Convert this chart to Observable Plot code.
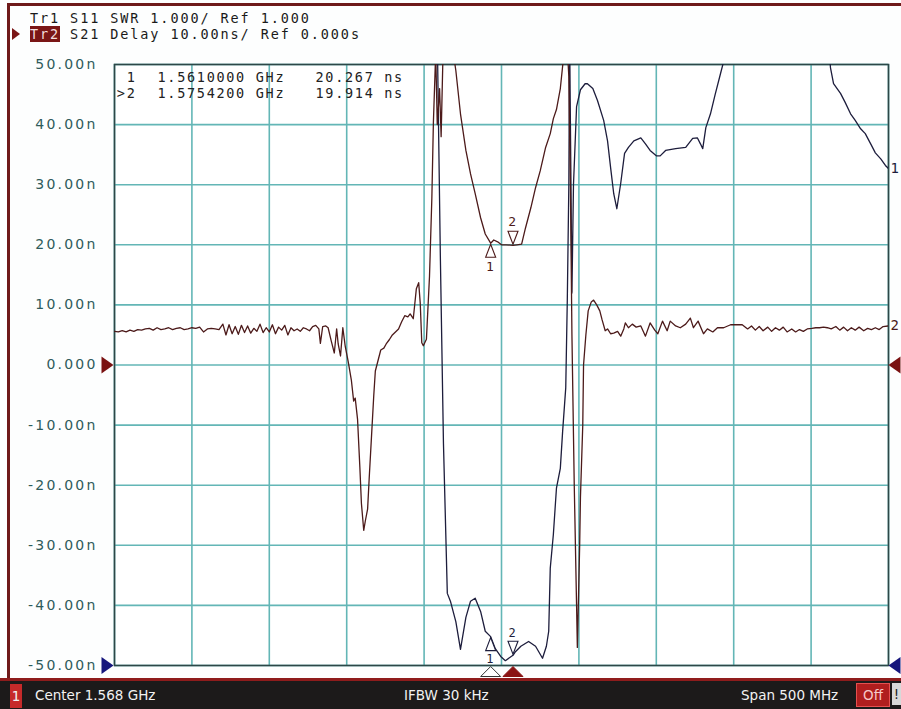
<!DOCTYPE html>
<html>
<head>
<meta charset="utf-8">
<script src="https://cdn.jsdelivr.net/npm/d3@7"></script>
<script src="https://cdn.jsdelivr.net/npm/@observablehq/plot@0.6"></script>
<style>
  html, body { margin: 0; padding: 0; background: #fdfefe; }
  #wrap { position: relative; width: 901px; height: 709px; overflow: hidden; background: #fdfefe; }
  #frameTop { position: absolute; left: 7px; top: 3px; width: 894px; height: 3px; background: #6e1a1a; }
  #frameLeft { position: absolute; left: 7px; top: 3px; width: 3px; height: 678px; background: #6e1a1a; }
  .hl { position: absolute; left: 30px; font-family: "DejaVu Sans Mono", monospace; font-size: 13.5px; letter-spacing: 1.9px; line-height: 15px; height: 15px; color: #1a1a1a; white-space: pre; }
  #l1 { top: 11px; }
  #l2 { top: 27px; }
  .tr2 { background: #7a1616; color: #f3dede; }
  #act { position: absolute; left: 12px; top: 28px; width: 0; height: 0; border-top: 6px solid transparent; border-bottom: 6px solid transparent; border-left: 8px solid #7a1616; }
  #chart { position: absolute; left: 0; top: 40px; }
  #sbar { position: absolute; left: 0; top: 678px; width: 901px; height: 31px; background: #1c1a1a; border-top: 3px solid #8e1c1c; box-sizing: border-box; font-family: "DejaVu Sans", sans-serif; font-size: 13.5px; color: #f2f2f2; }
  #sbar span { position: absolute; top: 5px; line-height: 18px; }
  #chan { left: 10px; top: 3px !important; width: 12px; height: 24px; background: #c62a2a; text-align: center; line-height: 24px !important; }
  #off { left: 856px; top: 2px !important; width: 32px; height: 22px; line-height: 22px !important; background: #b01e1e; border: 1px solid #e65050; color: #f7c9c9; text-align: center; }
  #bang { left: 892px; top: 2px !important; width: 9px; height: 22px; line-height: 22px !important; background: #d8d8d8; color: #222; text-align: center; }
  svg g[aria-label="y-axis tick label"] text { letter-spacing: 2.2px; }
  svg g[aria-label="text"] text { letter-spacing: 1.7px; }
</style>
</head>
<body>
<div id="wrap">
  <div id="frameTop"></div>
  <div id="frameLeft"></div>
  <div class="hl" id="l1">Tr1 S11 SWR 1.000/ Ref 1.000</div>
  <div id="act"></div>
  <div class="hl" id="l2"><span class="tr2">Tr2</span> S21 Delay 10.00ns/ Ref 0.000s</div>
  <div id="chart"></div>
  <div id="sbar">
    <span id="chan">1</span>
    <span style="left:35px">Center 1.568 GHz</span>
    <span style="left:404px">IFBW 30 kHz</span>
    <span style="left:741px">Span 500 MHz</span>
    <span id="off">Off</span>
    <span id="bang">!</span>
  </div>
</div>
<script>
// ---------------- data ----------------
// frequency axis (MHz): Center 1568, Span 500, 10 divisions
const xGridMHz = [1318, 1368, 1418, 1468, 1518, 1568, 1618, 1668, 1718, 1768, 1818];
// y axis (Tr2 delay, ns): 10 ns / div, ref 0 at centre
const yTicks = [-50, -40, -30, -20, -10, 0, 10, 20, 30, 40, 50];
const yTickLabels = ["-50.00n", "-40.00n", "-30.00n", "-20.00n", "-10.00n", "0.000", "10.00n", "20.00n", "30.00n", "40.00n", "50.00n"];

// Tr1: S11 SWR, 1.000 / div, ref 1.000 at bottom line
const swrPerDiv = 1.0;
const swrRef = 1.0;
// [frequency MHz, SWR]
const swrTrace = [
  [1318,12.5],[1526,12.5],[1526.5,11.5],[1528.5,7.8],[1530.5,4.7],[1533,2.2],[1535,2.07],[1538.5,1.73],
  [1541.5,1.27],[1545,1.8],[1548,2.07],[1551,2.12],[1554.5,1.9],[1557.5,1.57],[1561,1.48],[1564,1.28],
  [1567.5,1.15],[1570.5,1.08],[1575.42,1.17],[1577,1.23],[1580.5,1.32],[1585.5,1.40],[1590,1.32],
  [1594.5,1.12],[1597,1.32],[1598.5,1.57],[1599.5,2.62],[1601.5,3.18],[1603.5,3.95],[1606,4.28],
  [1607.5,4.9],[1609.5,5.62],[1610.5,7.07],[1611.5,9.0],[1612,11.5],[1613.5,7.2],[1614.5,9.0],
  [1616.5,10.3],[1619,10.58],[1622,10.68],[1623.5,10.68],[1627,10.6],[1630,10.4],[1634,10.07],
  [1636.5,9.73],[1638.5,9.28],[1640.5,8.85],[1642.5,8.6],[1645,9.02],[1647.5,9.52],[1650,9.62],
  [1653.5,9.73],[1658,9.78],[1661,9.68],[1664,9.57],[1668,9.48],[1670.5,9.48],[1674,9.57],
  [1680.5,9.6],[1687,9.62],[1691.5,9.77],[1694.5,9.78],[1696.5,9.68],[1698,9.6],[1700,9.95],
  [1703,10.18],[1706,10.5],[1709.5,10.85],[1711.5,11.05],[1713.5,11.5],[1748,11.8],[1779,11.5],
  [1780.5,10.95],[1782.5,10.68],[1787,10.52],[1790,10.37],[1793.5,10.18],[1796.5,10.07],[1800,9.93],
  [1803,9.85],[1806.5,9.68],[1809.5,9.53],[1813,9.43],[1816,9.32],[1818,9.27]
];

// Tr2: S21 group delay (ns) — [frequency MHz, delay ns]
const delayTrace = [
  [1318,5.6],[1320.5,5.5],[1323,5.7],[1325.5,5.5],[1328,5.8],[1330.5,5.6],[1333,5.9],[1335.5,5.8],
  [1338,6.0],[1340.5,6.1],[1343,5.8],[1345.5,6.2],[1348,5.9],[1350.5,6.0],[1353,6.2],[1355.5,5.9],
  [1358,6.1],[1360.5,6.2],[1363,5.9],[1365.5,6.0],[1368,6.2],[1370.5,6.1],[1373,6.3],[1375.5,5.5],
  [1378,6.0],[1380.5,6.1],[1383,6.0],[1385.5,5.9],
  [1388,6.8],[1390,5.0],[1392,6.7],[1394,5.2],[1396,6.4],[1398,5.1],[1400,6.6],[1402,5.4],[1404,6.5],
  [1406,5.3],[1408,6.1],[1410,5.6],[1412,6.8],[1414,5.4],[1416,6.2],[1418,5.5],[1420,6.7],[1422,5.2],
  [1424,6.3],[1426,5.8],[1428,6.6],[1430,5.0],[1432,6.2],[1434,5.7],[1436,6.0],[1438,5.6],[1440,6.2],
  [1442,6.0],[1444,5.7],[1446,6.4],[1448,6.6],[1450,6.0],
  [1451,3.6],[1452.5,6.4],[1454.5,6.5],[1456,6.2],[1458,4.0],[1460,2.0],[1461.5,6.0],[1462.5,3.5],
  [1464,1.5],[1465.5,6.2],[1467,3.2],[1469,0.5],[1471,-2.5],[1472.5,-6],[1473.5,-5.5],[1475,-9],
  [1476.5,-17],[1477.5,-23],[1479,-27.5],[1480,-26],[1481.5,-24],[1482.5,-19],[1484,-12],[1485.5,-5],
  [1486.5,-1],[1488,0.5],[1490,2.5],[1492,2.8],[1493.5,3.5],[1495.5,4.2],[1497.5,5.0],[1499.5,5.5],
  [1501.5,6.0],[1503.5,7.2],[1505.5,8.2],[1507.5,8.0],[1509,8.5],[1511,7.7],[1513,12.7],[1514.5,13.7],
  [1515.5,10.3],[1516.5,3.7],[1517.5,3.2],[1519.5,4.3],[1521.5,14.8],[1523,27.7],[1524,40.3],
  [1525.5,52],[1526.5,40],[1528,46],[1529,38],[1530.5,55],[1534.5,56],[1538.5,49],[1541.5,41.8],
  [1545,35.7],[1548,31.8],[1551,28.5],[1554.5,24.5],[1557.5,21.8],[1561,20.267],[1563,20.8],
  [1565.5,20.5],[1568,20.0],[1571,20.0],[1575.42,19.914],[1578,20.0],[1581,20.1],[1583.5,22.8],
  [1587,26.2],[1590,29.5],[1593,32.3],[1596.5,36.2],[1599.5,38.5],[1601.5,41],[1603.5,42.5],
  [1606,46],[1608,51],[1610,55],[1611.5,48],[1612.5,30],[1613.5,5],[1615,-20],[1616.5,-40],
  [1617,-47],[1618.5,-30],[1619,-22],[1620.5,-10],[1621,0],[1622.5,5],[1624,9],[1626,10.5],
  [1627.5,10.8],[1629.5,10],[1631.5,9],[1633,7.5],[1635,5.7],
  [1636.5,6.0],[1638.5,5.2],[1640.5,5.3],[1643,5.6],[1645,4.8],[1647,6.0],[1648,7.0],[1650,6.2],
  [1652.5,6.8],[1655,6.3],[1658,6.5],[1661,4.8],[1664,7.0],[1667,5.8],[1669,5.2],[1672,7.3],
  [1675,5.7],[1677,7.3],[1680.5,6.5],[1683.5,6.2],[1687,6.8],[1690,7.8],[1692,6.2],[1695,7.3],
  [1698.5,5.2],[1701,6.0],[1704.5,5.5],[1707.5,6.2],[1711.5,6.2],[1716,6.7],[1720,6.7],[1723.5,6.7],
  [1727,6.0],[1729.5,6.5],[1732,5.8],[1734.5,6.4],[1737,5.7],[1740,6.3],[1742.5,5.6],[1745,6.2],
  [1747.5,5.8],[1750,6.3],[1752.5,5.5],[1755.5,6.0],[1758,5.5],[1760.5,5.9],[1763,5.6],[1765.5,6.0],
  [1768.5,6.1],[1771,6.2],[1773.5,6.2],[1776,6.3],[1778.5,6.2],[1781,6.0],[1784,6.4],[1786.5,5.8],
  [1789,6.3],[1791.5,5.7],[1794,6.2],[1796.5,5.8],[1799,6.3],[1802,5.7],[1804.5,6.1],[1807,5.9],
  [1809.5,6.2],[1812,5.9],[1814.5,6.4],[1818,6.5]
];

// markers
const markerIds = ["1", "2"];
const markerTableIds = ["1", ">2"];
const markerFreqGHz = [1.5610000, 1.5754200];
const markerDelayNs = [20.267, 19.914];
const markerSwr = [1.48, 1.17];

// ---------------- styling ----------------
const TR1 = "#1d1d3c";
const TR2 = "#4c1a1a";
const GRID = "#63b6b6";
const FRAME = "#2d4747";
const REF2 = "#7a1212";
const REF1 = "#16167c";

// SWR value -> position on the shared screen graticule (ns units of the active trace)
const swrPos = s => (s - swrRef) / swrPerDiv * 10 - 50;

const swrData = swrTrace.map(([f, s]) => ({f, v: swrPos(s)}));
const delayData = delayTrace.map(([f, v]) => ({f, v}));
const mk = markerIds.map((id, i) => ({
  id, f: markerFreqGHz[i] * 1000, d: markerDelayNs[i], s: swrPos(markerSwr[i])
}));
const tableRows = markerIds.map((id, i) => ({
  row: i,
  id: markerTableIds[i],
  freq: markerFreqGHz[i].toFixed(7) + " GHz",
  val: markerDelayNs[i].toFixed(3) + " ns"
}));

// custom symbols
const sym = pts => ({draw(ctx) { ctx.moveTo(pts[0][0], pts[0][1]); for (const p of pts.slice(1)) ctx.lineTo(p[0], p[1]); ctx.closePath(); }});
const markUp = sym([[0, -7], [5, 6], [-5, 6]]);
const markDown = sym([[0, 7], [5, -6], [-5, -6]]);
const edgeRight = sym([[6, 0], [-6, -8.5], [-6, 8.5]]);
const edgeLeft = sym([[-6, 0], [6, -8.5], [6, 8.5]]);
const stimUp = sym([[0, -5], [10, 5], [-10, 5]]);

const mono = "DejaVu Sans Mono";
const tableText = (rowIdx, field, dx, anchor) => Plot.text(tableRows.filter(r => r.row === rowIdx), {
  frameAnchor: "top-left", dx, dy: rowIdx === 0 ? 13 : 29, text: field, textAnchor: anchor,
  lineAnchor: "middle", fontFamily: mono, fontSize: 13.5, fill: "#222"
});

const chart = Plot.plot({
  width: 901,
  height: 640,
  marginTop: 24,
  marginBottom: 15,
  marginLeft: 114,
  marginRight: 13,
  style: {background: "transparent", overflow: "visible"},
  x: {domain: [1318, 1818], axis: null},
  y: {domain: [-50, 50]},
  marks: [
    Plot.frame({fill: "#ffffff", stroke: "none"}),
    Plot.gridX(xGridMHz, {stroke: GRID, strokeOpacity: 1, strokeWidth: 1.6}),
    Plot.gridY(yTicks, {stroke: GRID, strokeOpacity: 1, strokeWidth: 1.6}),
    Plot.frame({stroke: FRAME, strokeWidth: 1.6}),
    Plot.axisY(yTicks, {
      tickSize: 0, tickPadding: 17, label: null,
      tickFormat: d => yTickLabels[yTicks.indexOf(d)],
      fontSize: 14, fontFamily: "DejaVu Sans", fill: "#2f5b5b"
    }),
    // traces
    Plot.line(swrData, {x: "f", y: "v", stroke: TR1, strokeWidth: 1.3, clip: true, strokeLinejoin: "round"}),
    Plot.line(delayData, {x: "f", y: "v", stroke: TR2, strokeWidth: 1.3, clip: true, strokeLinejoin: "round"}),
    // trace end labels
    Plot.text([swrData[swrData.length - 1]], {x: "f", y: "v", text: () => "1", dx: 2, textAnchor: "start", fontFamily: mono, fontSize: 14, fill: TR1}),
    Plot.text([delayData[delayData.length - 1]], {x: "f", y: "v", text: () => "2", dx: 2, textAnchor: "start", fontFamily: mono, fontSize: 14, fill: TR2}),
    // reference-level triangles
    Plot.dot([0], {y: d => d, frameAnchor: "left", dx: -7, symbol: edgeRight, fill: REF2, stroke: "none"}),
    Plot.dot([swrPos(swrRef)], {y: d => d, frameAnchor: "left", dx: -7, symbol: edgeRight, fill: REF1, stroke: "none"}),
    Plot.dot([0], {y: d => d, frameAnchor: "right", dx: 6, symbol: edgeLeft, fill: REF2, stroke: "none"}),
    Plot.dot([swrPos(swrRef)], {y: d => d, frameAnchor: "right", dx: 6, symbol: edgeLeft, fill: REF1, stroke: "none"}),
    // markers on Tr2
    Plot.dot(mk.filter(m => m.id === "1"), {x: "f", y: "d", dy: 8, symbol: markUp, fill: "white", stroke: TR2, strokeWidth: 1.1}),
    Plot.text(mk.filter(m => m.id === "1"), {x: "f", y: "d", dy: 24, text: "id", fontFamily: mono, fontSize: 13, fill: TR2}),
    Plot.dot(mk.filter(m => m.id === "2"), {x: "f", y: "d", dy: -8, symbol: markDown, fill: "white", stroke: TR2, strokeWidth: 1.1}),
    Plot.text(mk.filter(m => m.id === "2"), {x: "f", y: "d", dy: -23, text: "id", fontFamily: mono, fontSize: 13, fill: TR2}),
    // markers on Tr1
    Plot.dot(mk.filter(m => m.id === "1"), {x: "f", y: "s", dy: 8, symbol: markUp, fill: "white", stroke: TR1, strokeWidth: 1.1}),
    Plot.text(mk.filter(m => m.id === "1"), {x: "f", y: "s", dy: 23, text: "id", fontFamily: mono, fontSize: 12, fill: TR1}),
    Plot.dot(mk.filter(m => m.id === "2"), {x: "f", y: "s", dy: -8, symbol: markDown, fill: "white", stroke: TR1, strokeWidth: 1.1}),
    Plot.text(mk.filter(m => m.id === "2"), {x: "f", y: "s", dy: -22, text: "id", fontFamily: mono, fontSize: 12, fill: TR1}),
    // stimulus markers under the graticule
    Plot.dot(mk.filter(m => m.id === "1"), {x: "f", frameAnchor: "bottom", dy: 6, symbol: stimUp, fill: "white", stroke: "#333", strokeWidth: 1}),
    Plot.dot(mk.filter(m => m.id === "2"), {x: "f", frameAnchor: "bottom", dy: 6, symbol: stimUp, fill: "#8a1414", stroke: "#8a1414", strokeWidth: 1}),
    // marker table
    tableText(0, "id", 22, "end"),
    tableText(1, "id", 22, "end"),
    tableText(0, "freq", 43, "start"),
    tableText(1, "freq", 43, "start"),
    tableText(0, "val", 201, "start"),
    tableText(1, "val", 201, "start")
  ]
});
document.getElementById("chart").appendChild(chart);
</script>
</body>
</html>
